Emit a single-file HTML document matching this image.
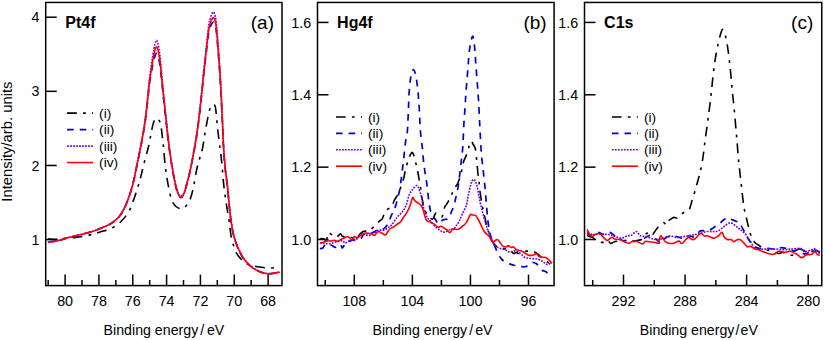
<!DOCTYPE html>
<html><head><meta charset="utf-8"><style>
html,body{margin:0;padding:0;background:#fff;width:825px;height:340px;overflow:hidden}
svg{display:block}

</style></head><body><div id="w">
<svg width="825" height="340" viewBox="0 0 825 340">
<defs>
<clipPath id="ca"><rect x="45.70" y="2.45" width="236.30" height="283.15"/></clipPath>
<clipPath id="cb"><rect x="317.50" y="2.45" width="236.60" height="283.15"/></clipPath>
<clipPath id="cc"><rect x="584.50" y="2.45" width="237.25" height="283.15"/></clipPath>
</defs>
<rect width="825" height="340" fill="#fff"/>
<g stroke-linejoin="round"><path d="M47.90,238.92 C49.38,238.97 53.95,239.32 56.80,239.20 C59.65,239.08 61.87,238.50 65.00,238.20 C68.13,237.90 71.68,237.88 75.60,237.40 C79.52,236.92 84.43,236.20 88.50,235.30 C92.57,234.40 96.17,233.18 100.00,232.00 C103.83,230.82 108.00,229.95 111.50,228.20 C115.00,226.45 118.15,224.20 121.00,221.50 C123.85,218.80 126.53,215.50 128.60,212.00 C130.67,208.50 131.97,204.32 133.40,200.50 C134.83,196.68 136.08,192.60 137.20,189.10 C138.32,185.60 139.23,182.68 140.10,179.50 C140.97,176.32 141.52,173.58 142.40,170.00 C143.28,166.42 144.37,161.97 145.40,158.00 C146.43,154.03 147.38,151.60 148.60,146.20 C149.82,140.80 151.63,130.05 152.70,125.60 C153.77,121.15 154.32,120.72 155.00,119.50 C155.68,118.28 156.20,118.30 156.80,118.30 C157.40,118.30 157.92,118.28 158.60,119.50 C159.28,120.72 160.10,121.15 160.90,125.60 C161.70,130.05 162.65,139.20 163.40,146.20 C164.15,153.20 164.62,161.22 165.40,167.60 C166.18,173.98 167.08,179.18 168.10,184.50 C169.12,189.82 170.18,195.83 171.50,199.50 C172.82,203.17 174.32,204.95 176.00,206.50 C177.68,208.05 179.93,208.88 181.60,208.80 C183.27,208.72 184.58,207.55 186.00,206.00 C187.42,204.45 188.85,202.67 190.10,199.50 C191.35,196.33 192.42,191.92 193.50,187.00 C194.58,182.08 195.55,174.83 196.60,170.00 C197.65,165.17 198.80,161.67 199.80,158.00 C200.80,154.33 201.68,152.47 202.60,148.00 C203.52,143.53 204.17,137.43 205.30,131.20 C206.43,124.97 208.28,114.92 209.40,110.60 C210.52,106.28 211.25,106.33 212.00,105.30 C212.75,104.27 213.40,104.28 213.90,104.40 C214.40,104.52 214.67,104.97 215.00,106.00 C215.33,107.03 215.42,106.40 215.90,110.60 C216.38,114.80 217.17,124.63 217.90,131.20 C218.63,137.77 219.67,144.87 220.30,150.00 C220.93,155.13 221.12,156.12 221.70,162.00 C222.28,167.88 223.00,178.13 223.80,185.30 C224.60,192.47 225.62,199.12 226.50,205.00 C227.38,210.88 228.27,215.07 229.10,220.60 C229.93,226.13 230.27,232.80 231.50,238.20 C232.73,243.60 234.83,249.45 236.50,253.00 C238.17,256.55 239.80,257.77 241.50,259.50 C243.20,261.23 244.95,262.40 246.70,263.40 C248.45,264.40 249.85,264.90 252.00,265.50 C254.15,266.10 256.77,266.57 259.60,267.00 C262.43,267.43 265.87,268.10 269.00,268.10 C272.13,268.10 276.60,267.20 278.40,267.00 C280.20,266.80 279.57,266.90 279.80,266.88" fill="none" stroke="#000" stroke-width="1.6" stroke-dasharray="9.7 6.2 2.8 6.2" clip-path="url(#ca)"/><path d="M47.90,241.82 C49.38,241.68 53.37,241.72 56.80,241.02 C60.23,240.32 64.58,238.67 68.50,237.62 C72.42,236.58 76.37,235.73 80.30,234.73 C84.23,233.73 88.82,232.65 92.10,231.64 C95.38,230.63 97.10,229.85 100.00,228.65 C102.90,227.46 106.63,226.11 109.50,224.47 C112.37,222.83 114.97,221.02 117.20,218.80 C119.43,216.58 121.15,214.15 122.90,211.13 C124.65,208.11 126.27,204.31 127.70,200.67 C129.13,197.04 130.45,192.81 131.50,189.32 C132.55,185.84 133.15,183.47 134.00,179.77 C134.85,176.07 135.47,172.65 136.60,167.14 C137.73,161.63 139.48,153.50 140.80,146.72 C142.12,139.93 143.43,133.34 144.50,126.43 C145.57,119.52 146.35,112.47 147.20,105.26 C148.05,98.05 148.67,89.96 149.60,83.17 C150.53,76.38 151.90,69.06 152.80,64.52 C153.70,59.97 154.38,57.75 155.00,55.89 C155.62,54.03 156.00,53.34 156.50,53.34 C157.00,53.34 157.43,53.99 158.00,55.89 C158.57,57.80 159.23,60.12 159.90,64.79 C160.57,69.45 161.32,77.53 162.00,83.86 C162.68,90.19 163.35,96.87 164.00,102.78 C164.65,108.68 165.32,113.94 165.90,119.27 C166.48,124.61 166.85,129.22 167.50,134.80 C168.15,140.37 169.02,147.18 169.80,152.74 C170.58,158.30 171.28,162.89 172.20,168.17 C173.12,173.46 174.33,180.16 175.30,184.45 C176.27,188.73 177.05,191.70 178.00,193.88 C178.95,196.06 180.00,197.55 181.00,197.54 C182.00,197.53 183.05,195.94 184.00,193.82 C184.95,191.70 185.57,189.14 186.70,184.83 C187.83,180.52 189.10,176.38 190.80,167.97 C192.50,159.55 195.20,145.53 196.90,134.34 C198.60,123.15 199.83,111.05 201.00,100.83 C202.17,90.61 203.03,81.00 203.90,73.02 C204.77,65.05 205.42,59.59 206.20,52.97 C206.98,46.35 207.80,37.92 208.60,33.30 C209.40,28.67 210.20,27.08 211.00,25.22 C211.80,23.36 212.68,22.08 213.40,22.13 C214.12,22.19 214.77,23.61 215.30,25.57 C215.83,27.52 216.10,29.21 216.60,33.89 C217.10,38.57 217.77,47.02 218.30,53.65 C218.83,60.28 219.35,67.03 219.80,73.68 C220.25,80.32 220.57,85.40 221.00,93.53 C221.43,101.65 221.95,112.84 222.40,122.41 C222.85,131.99 223.20,142.94 223.70,151.00 C224.20,159.06 224.78,164.85 225.40,170.79 C226.02,176.72 226.77,180.83 227.40,186.61 C228.03,192.40 228.60,199.77 229.20,205.50 C229.80,211.23 230.13,215.51 231.00,221.02 C231.87,226.52 232.57,232.61 234.40,238.51 C236.23,244.40 239.37,251.81 242.00,256.38 C244.63,260.94 247.27,263.36 250.20,265.91 C253.13,268.46 256.65,270.35 259.60,271.67 C262.55,273.00 264.77,273.73 267.90,273.86 C271.03,273.98 276.42,272.69 278.40,272.44 C280.38,272.19 279.57,272.38 279.80,272.36" fill="none" stroke="#0000cc" stroke-width="1.7" stroke-dasharray="6.6 6" clip-path="url(#ca)"/><path d="M47.90,241.76 C49.38,241.62 53.37,241.65 56.80,240.95 C60.23,240.25 64.58,238.59 68.50,237.54 C72.42,236.48 76.37,235.63 80.30,234.62 C84.23,233.61 88.82,232.52 92.10,231.49 C95.38,230.47 97.10,229.68 100.00,228.46 C102.90,227.25 106.63,225.88 109.50,224.21 C112.37,222.54 114.97,220.70 117.20,218.44 C119.43,216.18 121.15,213.72 122.90,210.66 C124.65,207.59 126.27,203.74 127.70,200.05 C129.13,196.36 130.45,192.07 131.50,188.53 C132.55,184.99 133.15,182.58 134.00,178.82 C134.85,175.05 135.47,171.60 136.60,165.96 C137.73,160.32 139.48,152.00 140.80,144.96 C142.12,137.93 143.43,131.01 144.50,123.76 C145.57,116.50 146.35,109.11 147.20,101.44 C148.05,93.76 148.67,85.37 149.60,77.70 C150.53,70.04 151.90,61.08 152.80,55.44 C153.70,49.80 154.38,46.35 155.00,43.84 C155.62,41.33 156.00,40.40 156.50,40.39 C157.00,40.39 157.43,41.35 158.00,43.83 C158.57,46.31 159.23,49.73 159.90,55.26 C160.57,60.78 161.32,69.90 162.00,76.97 C162.68,84.05 163.35,91.31 164.00,97.71 C164.65,104.12 165.32,109.74 165.90,115.40 C166.48,121.05 166.85,125.82 167.50,131.64 C168.15,137.46 169.02,144.54 169.80,150.30 C170.58,156.07 171.28,160.80 172.20,166.23 C173.12,171.67 174.33,178.52 175.30,182.90 C176.27,187.29 177.05,190.31 178.00,192.55 C178.95,194.79 180.00,196.32 181.00,196.35 C182.00,196.37 183.05,194.80 184.00,192.69 C184.95,190.58 185.57,188.01 186.70,183.68 C187.83,179.35 189.10,175.23 190.80,166.70 C192.50,158.18 195.20,143.96 196.90,132.54 C198.60,121.13 199.83,108.73 201.00,98.20 C202.17,87.67 203.03,77.72 203.90,69.35 C204.77,60.98 205.42,55.16 206.20,48.00 C206.98,40.85 207.80,31.72 208.60,26.41 C209.40,21.11 210.20,18.55 211.00,16.16 C211.80,13.78 212.68,12.05 213.40,12.10 C214.12,12.14 214.77,14.14 215.30,16.45 C215.83,18.75 216.10,20.79 216.60,25.93 C217.10,31.07 217.77,40.17 218.30,47.27 C218.83,54.36 219.35,61.52 219.80,68.50 C220.25,75.48 220.57,80.77 221.00,89.15 C221.43,97.53 221.95,109.00 222.40,118.79 C222.85,128.59 223.20,139.69 223.70,147.94 C224.20,156.19 224.78,162.19 225.40,168.30 C226.02,174.42 226.77,178.70 227.40,184.63 C228.03,190.55 228.60,198.02 229.20,203.85 C229.80,209.69 230.13,214.03 231.00,219.63 C231.87,225.23 232.57,231.45 234.40,237.47 C236.23,243.49 239.37,251.09 242.00,255.77 C244.63,260.44 247.27,262.91 250.20,265.52 C253.13,268.13 256.65,270.05 259.60,271.41 C262.55,272.77 264.77,273.51 267.90,273.66 C271.03,273.81 276.42,272.54 278.40,272.30 C280.38,272.06 279.57,272.24 279.80,272.22" fill="none" stroke="#7000ee" stroke-width="1.6" stroke-dasharray="1.8 1.2" clip-path="url(#ca)"/><path d="M47.90,241.80 C49.38,241.67 53.37,241.70 56.80,241.00 C60.23,240.30 64.58,238.65 68.50,237.60 C72.42,236.55 76.37,235.70 80.30,234.70 C84.23,233.70 88.82,232.62 92.10,231.60 C95.38,230.58 97.10,229.80 100.00,228.60 C102.90,227.40 106.63,226.05 109.50,224.40 C112.37,222.75 114.97,220.93 117.20,218.70 C119.43,216.47 121.15,214.03 122.90,211.00 C124.65,207.97 126.27,204.15 127.70,200.50 C129.13,196.85 130.45,192.60 131.50,189.10 C132.55,185.60 133.15,183.22 134.00,179.50 C134.85,175.78 135.47,172.35 136.60,166.80 C137.73,161.25 139.48,153.07 140.80,146.20 C142.12,139.33 143.43,132.63 144.50,125.60 C145.57,118.57 146.35,111.40 147.20,104.00 C148.05,96.60 148.67,88.43 149.60,81.20 C150.53,73.97 151.90,65.80 152.80,60.60 C153.70,55.40 154.38,52.30 155.00,50.00 C155.62,47.70 156.00,46.80 156.50,46.80 C157.00,46.80 157.43,47.70 158.00,50.00 C158.57,52.30 159.23,55.40 159.90,60.60 C160.57,65.80 161.32,74.47 162.00,81.20 C162.68,87.93 163.35,94.87 164.00,101.00 C164.65,107.13 165.32,112.53 165.90,118.00 C166.48,123.47 166.85,128.13 167.50,133.80 C168.15,139.47 169.02,146.37 169.80,152.00 C170.58,157.63 171.28,162.27 172.20,167.60 C173.12,172.93 174.33,179.68 175.30,184.00 C176.27,188.32 177.05,191.30 178.00,193.50 C178.95,195.70 180.00,197.20 181.00,197.20 C182.00,197.20 183.05,195.62 184.00,193.50 C184.95,191.38 185.57,188.82 186.70,184.50 C187.83,180.18 189.10,176.05 190.80,167.60 C192.50,159.15 195.20,145.07 196.90,133.80 C198.60,122.53 199.83,110.33 201.00,100.00 C202.17,89.67 203.03,79.93 203.90,71.80 C204.77,63.67 205.42,58.07 206.20,51.20 C206.98,44.33 207.80,35.58 208.60,30.60 C209.40,25.62 210.20,23.47 211.00,21.30 C211.80,19.13 212.68,17.55 213.40,17.60 C214.12,17.65 214.77,19.43 215.30,21.60 C215.83,23.77 216.10,25.67 216.60,30.60 C217.10,35.53 217.77,44.33 218.30,51.20 C218.83,58.07 219.35,65.00 219.80,71.80 C220.25,78.60 220.57,83.77 221.00,92.00 C221.43,100.23 221.95,111.53 222.40,121.20 C222.85,130.87 223.20,141.87 223.70,150.00 C224.20,158.13 224.78,164.00 225.40,170.00 C226.02,176.00 226.77,180.17 227.40,186.00 C228.03,191.83 228.60,199.23 229.20,205.00 C229.80,210.77 230.13,215.07 231.00,220.60 C231.87,226.13 232.57,232.27 234.40,238.20 C236.23,244.13 239.37,251.60 242.00,256.20 C244.63,260.80 247.27,263.23 250.20,265.80 C253.13,268.37 256.65,270.27 259.60,271.60 C262.55,272.93 264.77,273.67 267.90,273.80 C271.03,273.93 276.42,272.65 278.40,272.40 C280.38,272.15 279.57,272.34 279.80,272.32" fill="none" stroke="#ff0000" stroke-width="1.6" clip-path="url(#ca)"/><path d="M319.90,239.12 C320.20,239.01 321.02,238.50 321.70,238.50 C322.38,238.50 323.22,238.90 324.00,239.10 C324.78,239.30 325.60,240.78 326.40,239.70 C327.20,238.62 328.12,233.58 328.80,232.60 C329.48,231.62 329.72,233.23 330.50,233.80 C331.28,234.37 332.52,235.40 333.50,236.00 C334.48,236.60 335.62,237.42 336.40,237.40 C337.18,237.38 337.52,236.50 338.20,235.90 C338.88,235.30 339.92,233.85 340.50,233.80 C341.08,233.75 341.03,235.07 341.70,235.60 C342.37,236.13 343.52,236.60 344.50,237.00 C345.48,237.40 346.43,237.92 347.60,238.00 C348.77,238.08 350.07,237.42 351.50,237.50 C352.93,237.58 354.87,239.00 356.20,238.50 C357.53,238.00 358.33,235.67 359.50,234.50 C360.67,233.33 361.95,232.08 363.20,231.50 C364.45,230.92 365.82,231.20 367.00,231.00 C368.18,230.80 369.37,230.82 370.30,230.30 C371.23,229.78 371.72,228.78 372.60,227.90 C373.48,227.02 374.70,225.90 375.60,225.00 C376.50,224.10 377.22,223.28 378.00,222.50 C378.78,221.72 379.62,220.87 380.30,220.30 C380.98,219.73 381.48,220.07 382.10,219.10 C382.72,218.13 383.38,215.82 384.00,214.50 C384.62,213.18 385.13,212.12 385.80,211.20 C386.47,210.28 387.20,209.60 388.00,209.00 C388.80,208.40 389.87,208.18 390.60,207.60 C391.33,207.02 391.83,206.60 392.40,205.50 C392.97,204.40 393.40,202.33 394.00,201.00 C394.60,199.67 395.35,198.58 396.00,197.50 C396.65,196.42 397.30,195.67 397.90,194.50 C398.50,193.33 399.05,191.93 399.60,190.50 C400.15,189.07 400.50,188.00 401.20,185.90 C401.90,183.80 403.07,180.75 403.80,177.90 C404.53,175.05 404.90,171.58 405.60,168.80 C406.30,166.02 407.23,163.47 408.00,161.20 C408.77,158.93 409.52,156.67 410.20,155.20 C410.88,153.73 411.43,152.23 412.10,152.40 C412.77,152.57 413.52,154.15 414.20,156.20 C414.88,158.25 415.57,161.90 416.20,164.70 C416.83,167.50 417.47,170.28 418.00,173.00 C418.53,175.72 418.93,178.32 419.40,181.00 C419.87,183.68 420.40,186.43 420.80,189.10 C421.20,191.77 421.47,194.85 421.80,197.00 C422.13,199.15 422.40,200.00 422.80,202.00 C423.20,204.00 423.53,207.07 424.20,209.00 C424.87,210.93 425.92,212.27 426.80,213.60 C427.68,214.93 428.57,216.07 429.50,217.00 C430.43,217.93 431.57,219.45 432.40,219.20 C433.23,218.95 433.90,216.53 434.50,215.50 C435.10,214.47 435.25,213.15 436.00,213.00 C436.75,212.85 437.97,214.00 439.00,214.60 C440.03,215.20 441.32,217.72 442.20,216.60 C443.08,215.48 443.58,209.93 444.30,207.90 C445.02,205.87 445.78,205.57 446.50,204.40 C447.22,203.23 447.77,202.47 448.60,200.90 C449.43,199.33 450.58,197.15 451.50,195.00 C452.42,192.85 453.23,189.62 454.10,188.00 C454.97,186.38 455.97,186.38 456.70,185.30 C457.43,184.22 457.80,183.30 458.50,181.50 C459.20,179.70 460.25,176.92 460.90,174.50 C461.55,172.08 461.92,169.25 462.40,167.00 C462.88,164.75 463.07,163.15 463.80,161.00 C464.53,158.85 465.93,156.52 466.80,154.10 C467.67,151.68 468.30,148.65 469.00,146.50 C469.70,144.35 470.33,141.62 471.00,141.20 C471.67,140.78 472.25,142.63 473.00,144.00 C473.75,145.37 474.87,146.53 475.50,149.40 C476.13,152.27 476.40,157.27 476.80,161.20 C477.20,165.13 477.53,169.70 477.90,173.00 C478.27,176.30 478.67,178.07 479.00,181.00 C479.33,183.93 479.43,186.93 479.90,190.60 C480.37,194.27 481.22,199.60 481.80,203.00 C482.38,206.40 482.88,208.60 483.40,211.00 C483.92,213.40 484.38,215.07 484.90,217.40 C485.42,219.73 485.98,222.85 486.50,225.00 C487.02,227.15 487.15,227.75 488.00,230.30 C488.85,232.85 490.33,237.75 491.60,240.30 C492.87,242.85 494.27,244.40 495.60,245.60 C496.93,246.80 498.05,246.95 499.60,247.50 C501.15,248.05 503.13,248.45 504.90,248.90 C506.67,249.35 508.77,249.43 510.20,250.20 C511.63,250.97 512.50,253.17 513.50,253.50 C514.50,253.83 515.42,252.20 516.20,252.20 C516.98,252.20 517.40,253.45 518.20,253.50 C519.00,253.55 519.93,252.88 521.00,252.50 C522.07,252.12 523.35,251.42 524.60,251.20 C525.85,250.98 527.17,251.20 528.50,251.20 C529.83,251.20 531.37,250.97 532.60,251.20 C533.83,251.43 534.75,251.88 535.90,252.60 C537.05,253.32 538.18,254.40 539.50,255.50 C540.82,256.60 542.55,258.15 543.80,259.20 C545.05,260.25 546.00,261.03 547.00,261.80 C548.00,262.57 549.00,263.35 549.80,263.80 C550.60,264.25 551.47,264.38 551.80,264.50" fill="none" stroke="#000" stroke-width="1.6" stroke-dasharray="9.7 6.2 2.8 6.2" clip-path="url(#cb)"/><path d="M319.90,248.70 C320.40,248.59 322.02,248.72 322.90,248.00 C323.78,247.28 324.35,244.98 325.20,244.40 C326.05,243.82 327.02,244.40 328.00,244.50 C328.98,244.60 329.80,244.52 331.10,245.00 C332.40,245.48 334.23,247.50 335.80,247.40 C337.37,247.30 339.42,244.30 340.50,244.40 C341.58,244.50 341.52,248.10 342.30,248.00 C343.08,247.90 344.12,244.88 345.20,243.80 C346.28,242.72 347.62,242.08 348.80,241.50 C349.98,240.92 351.13,240.70 352.30,240.30 C353.47,239.90 354.95,239.30 355.80,239.10 C356.65,238.90 356.55,239.20 357.40,239.10 C358.25,239.00 359.83,239.28 360.90,238.50 C361.97,237.72 362.63,234.98 363.80,234.40 C364.97,233.82 366.43,235.30 367.90,235.00 C369.37,234.70 370.83,233.48 372.60,232.60 C374.37,231.72 376.73,230.28 378.50,229.70 C380.27,229.12 381.63,230.08 383.20,229.10 C384.77,228.12 386.68,225.73 387.90,223.80 C389.12,221.87 389.62,219.55 390.50,217.50 C391.38,215.45 392.30,213.58 393.20,211.50 C394.10,209.42 395.07,207.58 395.90,205.00 C396.73,202.42 397.53,198.67 398.20,196.00 C398.87,193.33 399.40,191.83 399.90,189.00 C400.40,186.17 400.75,182.50 401.20,179.00 C401.65,175.50 402.17,171.50 402.60,168.00 C403.03,164.50 403.43,161.33 403.80,158.00 C404.17,154.67 404.43,151.17 404.80,148.00 C405.17,144.83 405.57,141.90 406.00,139.00 C406.43,136.10 407.00,135.43 407.40,130.60 C407.80,125.77 408.13,115.93 408.40,110.00 C408.67,104.07 408.77,99.25 409.00,95.00 C409.23,90.75 409.50,87.50 409.80,84.50 C410.10,81.50 410.43,79.08 410.80,77.00 C411.17,74.92 411.58,73.25 412.00,72.00 C412.42,70.75 412.85,69.58 413.30,69.50 C413.75,69.42 414.25,70.33 414.70,71.50 C415.15,72.67 415.60,74.42 416.00,76.50 C416.40,78.58 416.73,81.08 417.10,84.00 C417.47,86.92 417.85,90.00 418.20,94.00 C418.55,98.00 418.83,101.90 419.20,108.00 C419.57,114.10 420.00,124.93 420.40,130.60 C420.80,136.27 421.23,138.77 421.60,142.00 C421.97,145.23 422.30,147.00 422.60,150.00 C422.90,153.00 423.10,157.00 423.40,160.00 C423.70,163.00 424.03,165.33 424.40,168.00 C424.77,170.67 425.17,173.17 425.60,176.00 C426.03,178.83 426.57,181.67 427.00,185.00 C427.43,188.33 427.78,192.50 428.20,196.00 C428.62,199.50 429.03,203.25 429.50,206.00 C429.97,208.75 430.42,210.83 431.00,212.50 C431.58,214.17 432.32,214.90 433.00,216.00 C433.68,217.10 434.17,217.78 435.10,219.10 C436.03,220.42 437.62,223.50 438.60,223.90 C439.58,224.30 440.22,222.20 441.00,221.50 C441.78,220.80 442.03,220.20 443.30,219.70 C444.57,219.20 447.23,219.87 448.60,218.50 C449.97,217.13 450.62,213.55 451.50,211.50 C452.38,209.45 453.22,208.37 453.90,206.20 C454.58,204.03 455.05,200.87 455.60,198.50 C456.15,196.13 456.70,194.58 457.20,192.00 C457.70,189.42 458.10,186.57 458.60,183.00 C459.10,179.43 459.70,174.77 460.20,170.60 C460.70,166.43 461.17,161.93 461.60,158.00 C462.03,154.07 462.42,152.75 462.80,147.00 C463.18,141.25 463.53,130.00 463.90,123.50 C464.27,117.00 464.65,113.25 465.00,108.00 C465.35,102.75 465.62,97.33 466.00,92.00 C466.38,86.67 466.90,81.00 467.30,76.00 C467.70,71.00 468.05,66.17 468.40,62.00 C468.75,57.83 469.03,54.17 469.40,51.00 C469.77,47.83 470.23,45.08 470.60,43.00 C470.97,40.92 471.27,39.67 471.60,38.50 C471.93,37.33 472.27,36.00 472.60,36.00 C472.93,36.00 473.30,37.00 473.60,38.50 C473.90,40.00 474.15,42.58 474.40,45.00 C474.65,47.42 474.85,49.67 475.10,53.00 C475.35,56.33 475.55,60.17 475.90,65.00 C476.25,69.83 476.77,76.17 477.20,82.00 C477.63,87.83 478.08,93.08 478.50,100.00 C478.92,106.92 479.30,115.67 479.70,123.50 C480.10,131.33 480.52,140.92 480.90,147.00 C481.28,153.08 481.62,156.07 482.00,160.00 C482.38,163.93 482.72,166.18 483.20,170.60 C483.68,175.02 484.38,181.10 484.90,186.50 C485.42,191.90 485.83,197.58 486.30,203.00 C486.77,208.42 487.20,214.50 487.70,219.00 C488.20,223.50 488.75,227.02 489.30,230.00 C489.85,232.98 490.28,234.63 491.00,236.90 C491.72,239.17 492.83,241.72 493.60,243.60 C494.37,245.48 494.82,246.43 495.60,248.20 C496.38,249.97 497.42,252.53 498.30,254.20 C499.18,255.87 499.92,256.98 500.90,258.20 C501.88,259.42 502.65,260.52 504.20,261.50 C505.75,262.48 508.43,263.43 510.20,264.10 C511.97,264.77 513.07,265.10 514.80,265.50 C516.53,265.90 518.73,266.33 520.60,266.50 C522.47,266.67 524.23,267.17 526.00,266.50 C527.77,265.83 529.45,262.95 531.20,262.50 C532.95,262.05 534.83,262.58 536.50,263.80 C538.17,265.02 539.65,268.47 541.20,269.80 C542.75,271.13 544.15,270.70 545.80,271.80 C547.45,272.90 550.10,275.56 551.10,276.40 C552.10,277.24 551.68,276.77 551.80,276.84" fill="none" stroke="#0000cc" stroke-width="1.7" stroke-dasharray="6.6 6" clip-path="url(#cb)"/><path d="M319.90,242.79 C320.58,242.86 322.52,243.03 324.00,243.20 C325.48,243.37 327.22,243.90 328.80,243.80 C330.38,243.70 331.93,243.05 333.50,242.60 C335.07,242.15 336.63,241.38 338.20,241.10 C339.77,240.82 341.73,240.55 342.90,240.90 C344.07,241.25 344.02,243.30 345.20,243.20 C346.38,243.10 348.23,240.78 350.00,240.30 C351.77,239.82 354.38,240.98 355.80,240.30 C357.22,239.62 357.07,237.18 358.50,236.20 C359.93,235.22 362.63,234.50 364.40,234.40 C366.17,234.30 367.53,235.80 369.10,235.60 C370.67,235.40 372.23,234.08 373.80,233.20 C375.37,232.32 376.73,230.85 378.50,230.30 C380.27,229.75 382.63,230.48 384.40,229.90 C386.17,229.32 387.83,227.70 389.10,226.80 C390.37,225.90 390.68,226.08 392.00,224.50 C393.32,222.92 395.28,219.38 397.00,217.30 C398.72,215.22 400.82,213.92 402.30,212.00 C403.78,210.08 404.72,208.73 405.90,205.80 C407.08,202.87 408.23,197.18 409.40,194.40 C410.57,191.62 411.73,190.57 412.90,189.10 C414.07,187.63 415.48,185.87 416.40,185.60 C417.32,185.33 417.67,186.03 418.40,187.50 C419.13,188.97 420.17,192.15 420.80,194.40 C421.43,196.65 421.77,198.83 422.20,201.00 C422.63,203.17 422.82,205.30 423.40,207.40 C423.98,209.50 425.05,211.88 425.70,213.60 C426.35,215.32 426.72,216.67 427.30,217.70 C427.88,218.73 428.52,219.03 429.20,219.80 C429.88,220.57 430.52,221.28 431.40,222.30 C432.28,223.32 433.47,224.87 434.50,225.90 C435.53,226.93 436.60,227.73 437.60,228.50 C438.60,229.27 439.55,229.90 440.50,230.50 C441.45,231.10 442.25,231.93 443.30,232.10 C444.35,232.27 445.62,232.00 446.80,231.50 C447.98,231.00 449.22,229.60 450.40,229.10 C451.58,228.60 452.92,229.05 453.90,228.50 C454.88,227.95 455.43,226.97 456.30,225.80 C457.17,224.63 458.12,223.42 459.10,221.50 C460.08,219.58 460.98,217.03 462.20,214.30 C463.42,211.57 465.37,208.37 466.40,205.10 C467.43,201.83 467.65,198.15 468.40,194.70 C469.15,191.25 470.03,186.97 470.90,184.40 C471.77,181.83 472.65,179.30 473.60,179.30 C474.55,179.30 475.75,181.83 476.60,184.40 C477.45,186.97 478.00,191.25 478.70,194.70 C479.40,198.15 479.93,201.32 480.80,205.10 C481.67,208.88 482.87,213.63 483.90,217.40 C484.93,221.17 485.93,224.55 487.00,227.70 C488.07,230.85 489.30,233.98 490.30,236.30 C491.30,238.62 492.12,239.95 493.00,241.60 C493.88,243.25 494.50,245.10 495.60,246.20 C496.70,247.30 498.05,247.65 499.60,248.20 C501.15,248.75 503.25,248.83 504.90,249.50 C506.55,250.17 507.95,251.97 509.50,252.20 C511.05,252.43 512.75,250.97 514.20,250.90 C515.65,250.83 516.98,251.20 518.20,251.80 C519.42,252.40 520.43,253.60 521.50,254.50 C522.57,255.40 522.98,256.53 524.60,257.20 C526.22,257.87 528.98,258.17 531.20,258.50 C533.42,258.83 535.90,258.65 537.90,259.20 C539.90,259.75 541.67,260.92 543.20,261.80 C544.73,262.68 545.78,264.27 547.10,264.50 C548.42,264.73 550.32,263.37 551.10,263.20 C551.88,263.03 551.68,263.41 551.80,263.46" fill="none" stroke="#7000ee" stroke-width="1.6" stroke-dasharray="1.8 1.2" clip-path="url(#cb)"/><path d="M319.90,243.51 C320.20,243.37 320.62,243.10 321.70,242.70 C322.78,242.30 324.83,241.40 326.40,241.10 C327.97,240.80 329.73,241.03 331.10,240.90 C332.47,240.77 333.52,240.20 334.60,240.30 C335.68,240.40 336.62,241.60 337.60,241.50 C338.58,241.40 339.23,240.38 340.50,239.70 C341.77,239.02 343.92,237.88 345.20,237.40 C346.48,236.92 347.12,236.42 348.20,236.80 C349.28,237.18 350.63,239.75 351.70,239.70 C352.77,239.65 353.65,236.80 354.60,236.50 C355.55,236.20 356.35,238.15 357.40,237.90 C358.45,237.65 359.73,235.78 360.90,235.00 C362.07,234.22 363.23,233.50 364.40,233.20 C365.57,232.90 366.72,233.10 367.90,233.20 C369.08,233.30 370.42,233.43 371.50,233.80 C372.58,234.17 373.52,235.60 374.40,235.40 C375.28,235.20 376.12,233.25 376.80,232.60 C377.48,231.95 377.62,231.40 378.50,231.50 C379.38,231.60 380.92,232.62 382.10,233.20 C383.28,233.78 384.63,235.28 385.60,235.00 C386.57,234.72 387.12,232.58 387.90,231.50 C388.68,230.42 389.37,229.25 390.30,228.50 C391.23,227.75 392.38,227.70 393.50,227.00 C394.62,226.30 395.82,225.18 397.00,224.30 C398.18,223.42 399.42,223.02 400.60,221.70 C401.78,220.38 402.93,218.17 404.10,216.40 C405.27,214.63 406.57,213.00 407.60,211.10 C408.63,209.20 409.47,207.25 410.30,205.00 C411.13,202.75 411.87,198.33 412.60,197.60 C413.33,196.87 413.77,199.67 414.70,200.60 C415.63,201.53 417.08,202.33 418.20,203.20 C419.32,204.07 420.53,204.50 421.40,205.80 C422.27,207.10 422.68,208.85 423.40,211.00 C424.12,213.15 425.02,216.98 425.70,218.70 C426.38,220.42 426.87,220.83 427.50,221.30 C428.13,221.77 428.82,221.23 429.50,221.50 C430.18,221.77 430.92,222.55 431.60,222.90 C432.28,223.25 432.83,223.12 433.60,223.60 C434.37,224.08 435.37,225.18 436.20,225.80 C437.03,226.42 437.77,227.23 438.60,227.30 C439.43,227.37 440.33,226.10 441.20,226.20 C442.07,226.30 442.85,227.28 443.80,227.90 C444.75,228.52 445.90,229.12 446.90,229.90 C447.90,230.68 448.93,232.63 449.80,232.60 C450.67,232.57 451.32,230.28 452.10,229.70 C452.88,229.12 453.62,229.13 454.50,229.10 C455.38,229.07 456.57,229.58 457.40,229.50 C458.23,229.42 458.53,229.23 459.50,228.60 C460.47,227.97 462.07,226.70 463.20,225.70 C464.33,224.70 465.43,223.80 466.30,222.60 C467.17,221.40 467.70,219.88 468.40,218.50 C469.10,217.12 469.82,214.88 470.50,214.30 C471.18,213.72 471.65,214.82 472.50,215.00 C473.35,215.18 474.73,214.82 475.60,215.40 C476.47,215.98 476.83,216.97 477.70,218.50 C478.57,220.03 479.82,222.60 480.80,224.60 C481.78,226.60 482.65,228.93 483.60,230.50 C484.55,232.07 485.68,233.17 486.50,234.00 C487.32,234.83 487.87,234.78 488.50,235.50 C489.13,236.22 489.55,237.18 490.30,238.30 C491.05,239.42 492.12,241.87 493.00,242.20 C493.88,242.53 494.83,240.73 495.60,240.30 C496.37,239.87 496.82,239.17 497.60,239.60 C498.38,240.03 499.42,241.80 500.30,242.90 C501.18,244.00 501.92,245.53 502.90,246.20 C503.88,246.87 505.32,247.00 506.20,246.90 C507.08,246.80 507.42,245.50 508.20,245.60 C508.98,245.70 510.02,247.28 510.90,247.50 C511.78,247.72 512.62,246.57 513.50,246.90 C514.38,247.23 515.20,248.92 516.20,249.50 C517.20,250.08 518.53,250.12 519.50,250.40 C520.47,250.68 521.03,250.73 522.00,251.20 C522.97,251.67 524.20,252.53 525.30,253.20 C526.40,253.87 527.38,254.87 528.60,255.20 C529.82,255.53 531.28,255.42 532.60,255.20 C533.92,254.98 535.40,253.68 536.50,253.90 C537.60,254.12 538.20,255.95 539.20,256.50 C540.20,257.05 541.40,257.02 542.50,257.20 C543.60,257.38 544.70,257.10 545.80,257.60 C546.90,258.10 548.10,259.25 549.10,260.20 C550.10,261.15 551.35,262.78 551.80,263.30" fill="none" stroke="#ff0000" stroke-width="1.6" clip-path="url(#cb)"/><path d="M587.10,235.53 C587.13,235.54 586.85,235.39 587.30,235.60 C587.75,235.81 588.98,236.52 589.80,236.80 C590.62,237.08 591.25,236.77 592.20,237.30 C593.15,237.83 594.40,239.12 595.50,240.00 C596.60,240.88 597.72,242.20 598.80,242.60 C599.88,243.00 600.97,242.47 602.00,242.40 C603.03,242.33 604.08,242.52 605.00,242.20 C605.92,241.88 606.53,240.30 607.50,240.50 C608.47,240.70 609.55,243.23 610.80,243.40 C612.05,243.57 613.22,241.90 615.00,241.50 C616.78,241.10 619.20,241.25 621.50,241.00 C623.80,240.75 626.85,240.00 628.80,240.00 C630.75,240.00 631.75,240.92 633.20,241.00 C634.65,241.08 636.03,240.80 637.50,240.50 C638.97,240.20 640.83,239.95 642.00,239.20 C643.17,238.45 643.70,237.00 644.50,236.00 C645.30,235.00 646.05,233.45 646.80,233.20 C647.55,232.95 648.22,234.03 649.00,234.50 C649.78,234.97 650.58,236.42 651.50,236.00 C652.42,235.58 653.52,233.35 654.50,232.00 C655.48,230.65 656.40,229.07 657.40,227.90 C658.40,226.73 659.43,225.88 660.50,225.00 C661.57,224.12 662.85,222.60 663.80,222.60 C664.75,222.60 665.42,225.28 666.20,225.00 C666.98,224.72 667.70,221.90 668.50,220.90 C669.30,219.90 670.12,219.58 671.00,219.00 C671.88,218.42 672.83,217.58 673.80,217.40 C674.77,217.22 675.93,218.13 676.80,217.90 C677.67,217.67 678.22,216.68 679.00,216.00 C679.78,215.32 680.60,214.45 681.50,213.80 C682.40,213.15 683.18,212.68 684.40,212.10 C685.62,211.52 687.78,211.32 688.80,210.30 C689.82,209.28 690.02,207.43 690.50,206.00 C690.98,204.57 691.15,203.53 691.70,201.70 C692.25,199.87 693.13,197.20 693.80,195.00 C694.47,192.80 695.03,190.83 695.70,188.50 C696.37,186.17 697.13,183.43 697.80,181.00 C698.47,178.57 699.08,176.42 699.70,173.90 C700.32,171.38 700.90,169.05 701.50,165.90 C702.10,162.75 702.72,159.15 703.30,155.00 C703.88,150.85 704.42,145.50 705.00,141.00 C705.58,136.50 706.23,132.17 706.80,128.00 C707.37,123.83 707.85,120.17 708.40,116.00 C708.95,111.83 709.57,107.33 710.10,103.00 C710.63,98.67 711.13,94.33 711.60,90.00 C712.07,85.67 712.42,81.33 712.90,77.00 C713.38,72.67 713.93,68.00 714.50,64.00 C715.07,60.00 715.68,56.42 716.30,53.00 C716.92,49.58 717.55,46.42 718.20,43.50 C718.85,40.58 719.50,37.83 720.20,35.50 C720.90,33.17 721.67,29.92 722.40,29.50 C723.13,29.08 723.90,31.08 724.60,33.00 C725.30,34.92 726.02,38.08 726.60,41.00 C727.18,43.92 727.65,47.33 728.10,50.50 C728.55,53.67 728.90,56.58 729.30,60.00 C729.70,63.42 730.12,67.17 730.50,71.00 C730.88,74.83 731.25,79.17 731.60,83.00 C731.95,86.83 732.23,90.33 732.60,94.00 C732.97,97.67 733.40,101.00 733.80,105.00 C734.20,109.00 734.60,113.50 735.00,118.00 C735.40,122.50 735.83,127.83 736.20,132.00 C736.57,136.17 736.87,138.83 737.20,143.00 C737.53,147.17 737.83,152.83 738.20,157.00 C738.57,161.17 739.02,164.50 739.40,168.00 C739.78,171.50 740.12,174.67 740.50,178.00 C740.88,181.33 741.30,184.50 741.70,188.00 C742.10,191.50 742.47,195.50 742.90,199.00 C743.33,202.50 743.75,205.98 744.30,209.00 C744.85,212.02 745.57,214.38 746.20,217.10 C746.83,219.82 747.43,222.57 748.10,225.30 C748.77,228.03 749.42,231.05 750.20,233.50 C750.98,235.95 751.83,238.33 752.80,240.00 C753.77,241.67 754.90,242.57 756.00,243.50 C757.10,244.43 758.10,244.67 759.40,245.60 C760.70,246.53 762.08,248.27 763.80,249.10 C765.52,249.93 768.00,250.12 769.70,250.60 C771.40,251.08 772.53,251.52 774.00,252.00 C775.47,252.48 777.17,253.42 778.50,253.50 C779.83,253.58 780.90,252.57 782.00,252.50 C783.10,252.43 783.90,252.82 785.10,253.10 C786.30,253.38 788.00,253.85 789.20,254.20 C790.40,254.55 791.25,255.57 792.30,255.20 C793.35,254.83 794.38,253.03 795.50,252.00 C796.62,250.97 797.57,249.23 799.00,249.00 C800.43,248.77 802.82,249.92 804.10,250.60 C805.38,251.28 805.42,252.93 806.70,253.10 C807.98,253.27 810.00,252.28 811.80,251.60 C813.60,250.92 816.30,249.00 817.50,249.00 C818.70,249.00 818.63,251.16 819.00,251.60 C819.37,252.04 819.58,251.65 819.70,251.66" fill="none" stroke="#000" stroke-width="1.6" stroke-dasharray="9.7 6.2 2.8 6.2" clip-path="url(#cc)"/><path d="M587.10,232.64 C587.13,232.65 586.85,232.27 587.30,232.70 C587.75,233.13 588.83,235.07 589.80,235.20 C590.77,235.33 591.73,233.98 593.10,233.50 C594.47,233.02 596.63,232.30 598.00,232.30 C599.37,232.30 600.20,233.12 601.30,233.50 C602.40,233.88 603.37,234.80 604.60,234.60 C605.83,234.40 607.47,232.48 608.70,232.30 C609.93,232.12 611.07,232.98 612.00,233.50 C612.93,234.02 613.32,234.65 614.30,235.40 C615.28,236.15 616.78,237.32 617.90,238.00 C619.02,238.68 620.05,239.00 621.00,239.50 C621.95,240.00 622.53,240.87 623.60,241.00 C624.67,241.13 626.17,240.30 627.40,240.30 C628.63,240.30 629.78,240.80 631.00,241.00 C632.22,241.20 633.25,241.72 634.70,241.50 C636.15,241.28 638.28,240.10 639.70,239.70 C641.12,239.30 641.63,239.78 643.20,239.10 C644.77,238.42 647.33,235.88 649.10,235.60 C650.87,235.32 652.40,236.58 653.80,237.40 C655.20,238.22 656.48,239.48 657.50,240.50 C658.52,241.52 659.07,243.42 659.90,243.50 C660.73,243.58 661.65,241.83 662.50,241.00 C663.35,240.17 664.18,239.20 665.00,238.50 C665.82,237.80 666.40,237.13 667.40,236.80 C668.40,236.47 669.73,236.60 671.00,236.50 C672.27,236.40 673.65,236.05 675.00,236.20 C676.35,236.35 677.77,237.10 679.10,237.40 C680.43,237.70 681.38,238.23 683.00,238.00 C684.62,237.77 686.85,236.20 688.80,236.00 C690.75,235.80 692.73,237.65 694.70,236.80 C696.67,235.95 698.40,231.88 700.60,230.90 C702.80,229.92 705.45,231.63 707.90,230.90 C710.35,230.17 713.33,227.73 715.30,226.50 C717.27,225.27 718.33,224.58 719.70,223.50 C721.07,222.42 722.27,220.93 723.50,220.00 C724.73,219.07 725.90,218.05 727.10,217.90 C728.30,217.75 729.23,218.55 730.70,219.10 C732.17,219.65 734.55,220.67 735.90,221.20 C737.25,221.73 738.07,221.82 738.80,222.30 C739.53,222.78 739.32,222.45 740.30,224.10 C741.28,225.75 743.23,229.50 744.70,232.20 C746.17,234.90 747.50,237.97 749.10,240.30 C750.70,242.63 752.58,244.85 754.30,246.20 C756.02,247.55 757.08,248.03 759.40,248.40 C761.72,248.77 765.50,248.28 768.20,248.40 C770.90,248.52 773.38,249.23 775.60,249.10 C777.82,248.97 779.75,247.70 781.50,247.60 C783.25,247.50 784.65,248.18 786.10,248.50 C787.55,248.82 788.83,249.07 790.20,249.50 C791.57,249.93 792.92,251.10 794.30,251.10 C795.68,251.10 796.95,249.07 798.50,249.50 C800.05,249.93 801.90,253.18 803.60,253.70 C805.30,254.22 807.17,253.20 808.70,252.60 C810.23,252.00 811.42,250.43 812.80,250.10 C814.18,249.77 815.97,250.27 817.00,250.60 C818.03,250.93 818.55,251.84 819.00,252.10 C819.45,252.36 819.58,252.15 819.70,252.16" fill="none" stroke="#0000cc" stroke-width="1.7" stroke-dasharray="6.6 6" clip-path="url(#cc)"/><path d="M587.10,233.87 C587.20,233.89 587.05,233.81 587.70,234.00 C588.35,234.19 589.78,234.92 591.00,235.00 C592.22,235.08 593.50,234.67 595.00,234.50 C596.50,234.33 598.20,234.02 600.00,234.00 C601.80,233.98 604.07,234.27 605.80,234.40 C607.53,234.53 608.87,234.45 610.40,234.80 C611.93,235.15 613.15,235.95 615.00,236.50 C616.85,237.05 619.43,238.20 621.50,238.10 C623.57,238.00 625.68,236.40 627.40,235.90 C629.12,235.40 630.33,235.83 631.80,235.10 C633.27,234.37 634.73,231.37 636.20,231.50 C637.67,231.63 638.88,235.05 640.60,235.90 C642.32,236.75 644.53,236.12 646.50,236.60 C648.47,237.08 650.45,238.30 652.40,238.80 C654.35,239.30 656.25,239.72 658.20,239.60 C660.15,239.48 662.13,238.72 664.10,238.10 C666.07,237.48 668.03,236.02 670.00,235.90 C671.97,235.78 674.07,237.22 675.90,237.40 C677.73,237.58 679.15,237.23 681.00,237.00 C682.85,236.77 685.00,236.33 687.00,236.00 C689.00,235.67 690.98,235.37 693.00,235.00 C695.02,234.63 696.85,234.37 699.10,233.80 C701.35,233.23 704.28,231.97 706.50,231.60 C708.72,231.23 710.45,231.72 712.40,231.60 C714.35,231.48 716.25,231.75 718.20,230.90 C720.15,230.05 722.13,227.85 724.10,226.50 C726.07,225.15 728.28,223.05 730.00,222.80 C731.72,222.55 732.93,224.05 734.40,225.00 C735.87,225.95 737.57,227.55 738.80,228.50 C740.03,229.45 740.57,229.60 741.80,230.70 C743.03,231.80 744.73,233.25 746.20,235.10 C747.67,236.95 749.13,239.58 750.60,241.80 C752.07,244.02 753.28,247.18 755.00,248.40 C756.72,249.62 758.70,248.98 760.90,249.10 C763.10,249.22 765.75,249.10 768.20,249.10 C770.65,249.10 773.15,248.97 775.60,249.10 C778.05,249.23 780.70,249.90 782.90,249.90 C785.10,249.90 787.23,249.25 788.80,249.10 C790.37,248.95 790.35,249.10 792.30,249.00 C794.25,248.90 798.45,248.07 800.50,248.50 C802.55,248.93 802.88,251.33 804.60,251.60 C806.32,251.87 809.08,250.53 810.80,250.10 C812.52,249.67 813.53,248.50 814.90,249.00 C816.27,249.50 818.20,252.42 819.00,253.10 C819.80,253.78 819.58,253.09 819.70,253.09" fill="none" stroke="#7000ee" stroke-width="1.6" stroke-dasharray="1.8 1.2" clip-path="url(#cc)"/><path d="M587.10,229.74 C587.13,229.75 586.85,229.02 587.30,229.80 C587.75,230.58 588.98,233.23 589.80,234.40 C590.62,235.57 591.38,236.73 592.20,236.80 C593.02,236.87 593.73,235.35 594.70,234.80 C595.67,234.25 597.03,233.57 598.00,233.50 C598.97,233.43 599.67,233.85 600.50,234.40 C601.33,234.95 602.18,235.98 603.00,236.80 C603.82,237.62 604.65,238.68 605.40,239.30 C606.15,239.92 606.80,240.57 607.50,240.50 C608.20,240.43 608.85,239.43 609.60,238.90 C610.35,238.37 611.13,237.28 612.00,237.30 C612.87,237.32 613.63,238.63 614.80,239.00 C615.97,239.37 617.80,239.25 619.00,239.50 C620.20,239.75 621.10,240.12 622.00,240.50 C622.90,240.88 623.27,241.35 624.40,241.80 C625.53,242.25 627.33,243.33 628.80,243.20 C630.27,243.07 631.73,241.23 633.20,241.00 C634.67,240.77 636.00,241.30 637.60,241.80 C639.20,242.30 641.57,244.05 642.80,244.00 C644.03,243.95 643.90,241.87 645.00,241.50 C646.10,241.13 647.68,241.63 649.40,241.80 C651.12,241.97 653.78,242.32 655.30,242.50 C656.82,242.68 657.65,244.00 658.50,242.90 C659.35,241.80 659.72,236.70 660.40,235.90 C661.08,235.10 661.73,237.12 662.60,238.10 C663.47,239.08 664.37,240.90 665.60,241.80 C666.83,242.70 668.53,243.32 670.00,243.50 C671.47,243.68 672.93,243.32 674.40,242.90 C675.87,242.48 677.87,241.17 678.80,241.00 C679.73,240.83 679.43,241.50 680.00,241.90 C680.57,242.30 680.85,244.13 682.20,243.40 C683.55,242.67 686.50,238.17 688.10,237.50 C689.70,236.83 690.70,239.15 691.80,239.40 C692.90,239.65 693.23,239.98 694.70,239.00 C696.17,238.02 699.00,234.00 700.60,233.50 C702.20,233.00 703.08,235.58 704.30,236.00 C705.52,236.42 706.32,235.63 707.90,236.00 C709.48,236.37 712.08,238.20 713.80,238.20 C715.52,238.20 716.85,236.97 718.20,236.00 C719.55,235.03 720.92,232.27 721.90,232.40 C722.88,232.53 723.23,235.63 724.10,236.80 C724.97,237.97 725.87,238.92 727.10,239.40 C728.33,239.88 730.40,239.30 731.50,239.70 C732.60,240.10 732.85,241.77 733.70,241.80 C734.55,241.83 735.50,240.27 736.60,239.90 C737.70,239.53 738.95,238.92 740.30,239.60 C741.65,240.28 743.48,242.78 744.70,244.00 C745.92,245.22 746.62,246.53 747.60,246.90 C748.58,247.27 749.37,245.83 750.60,246.20 C751.83,246.57 753.53,248.48 755.00,249.10 C756.47,249.72 757.93,249.40 759.40,249.90 C760.87,250.40 762.33,251.50 763.80,252.10 C765.27,252.70 766.48,253.13 768.20,253.50 C769.92,253.87 772.38,254.67 774.10,254.30 C775.82,253.93 777.03,251.67 778.50,251.30 C779.97,250.93 781.63,251.97 782.90,252.10 C784.17,252.23 784.88,252.27 786.10,252.10 C787.32,251.93 788.83,250.93 790.20,251.10 C791.57,251.27 793.10,252.50 794.30,253.10 C795.50,253.70 796.37,254.02 797.40,254.70 C798.43,255.38 799.63,256.72 800.50,257.20 C801.37,257.68 801.73,257.93 802.60,257.60 C803.47,257.27 804.68,255.68 805.70,255.20 C806.72,254.72 807.68,254.87 808.70,254.70 C809.72,254.53 810.77,254.72 811.80,254.20 C812.83,253.68 813.95,251.52 814.90,251.60 C815.85,251.68 816.73,254.10 817.50,254.70 C818.27,255.30 819.13,255.11 819.50,255.20 C819.87,255.29 819.67,255.23 819.70,255.24" fill="none" stroke="#ff0000" stroke-width="1.6" clip-path="url(#cc)"/></g>
<g stroke="#000" stroke-width="1.5"><line x1="65.10" y1="285.60" x2="65.10" y2="274.60"/><line x1="98.93" y1="285.60" x2="98.93" y2="274.60"/><line x1="132.76" y1="285.60" x2="132.76" y2="274.60"/><line x1="166.59" y1="285.60" x2="166.59" y2="274.60"/><line x1="200.42" y1="285.60" x2="200.42" y2="274.60"/><line x1="234.25" y1="285.60" x2="234.25" y2="274.60"/><line x1="268.08" y1="285.60" x2="268.08" y2="274.60"/><line x1="48.18" y1="285.60" x2="48.18" y2="280.00"/><line x1="82.01" y1="285.60" x2="82.01" y2="280.00"/><line x1="115.84" y1="285.60" x2="115.84" y2="280.00"/><line x1="149.67" y1="285.60" x2="149.67" y2="280.00"/><line x1="183.50" y1="285.60" x2="183.50" y2="280.00"/><line x1="217.33" y1="285.60" x2="217.33" y2="280.00"/><line x1="251.16" y1="285.60" x2="251.16" y2="280.00"/><line x1="354.30" y1="285.60" x2="354.30" y2="274.60"/><line x1="412.37" y1="285.60" x2="412.37" y2="274.60"/><line x1="470.44" y1="285.60" x2="470.44" y2="274.60"/><line x1="528.50" y1="285.60" x2="528.50" y2="274.60"/><line x1="325.27" y1="285.60" x2="325.27" y2="280.00"/><line x1="383.33" y1="285.60" x2="383.33" y2="280.00"/><line x1="441.40" y1="285.60" x2="441.40" y2="280.00"/><line x1="499.47" y1="285.60" x2="499.47" y2="280.00"/><line x1="623.50" y1="285.60" x2="623.50" y2="274.60"/><line x1="685.06" y1="285.60" x2="685.06" y2="274.60"/><line x1="746.62" y1="285.60" x2="746.62" y2="274.60"/><line x1="808.18" y1="285.60" x2="808.18" y2="274.60"/><line x1="592.72" y1="285.60" x2="592.72" y2="280.00"/><line x1="654.28" y1="285.60" x2="654.28" y2="280.00"/><line x1="715.84" y1="285.60" x2="715.84" y2="280.00"/><line x1="777.40" y1="285.60" x2="777.40" y2="280.00"/><line x1="45.70" y1="239.60" x2="56.70" y2="239.60"/><line x1="45.70" y1="165.47" x2="56.70" y2="165.47"/><line x1="45.70" y1="91.34" x2="56.70" y2="91.34"/><line x1="45.70" y1="17.21" x2="56.70" y2="17.21"/><line x1="317.50" y1="239.50" x2="328.50" y2="239.50"/><line x1="317.50" y1="167.14" x2="328.50" y2="167.14"/><line x1="317.50" y1="94.78" x2="328.50" y2="94.78"/><line x1="317.50" y1="22.42" x2="328.50" y2="22.42"/><line x1="584.50" y1="239.50" x2="595.50" y2="239.50"/><line x1="584.50" y1="167.14" x2="595.50" y2="167.14"/><line x1="584.50" y1="94.78" x2="595.50" y2="94.78"/><line x1="584.50" y1="22.42" x2="595.50" y2="22.42"/></g>
<g fill="none"><path d="M67.10,113.15 H93.10" fill="none" stroke="#000" stroke-width="1.6" stroke-dasharray="9.7 6.2 2.8 6.2"/><path d="M67.10,129.62 H93.10" fill="none" stroke="#0000cc" stroke-width="1.7" stroke-dasharray="6.6 6"/><path d="M67.10,146.09 H93.10" fill="none" stroke="#7000ee" stroke-width="1.6" stroke-dasharray="1.8 1.2"/><path d="M67.10,162.56 H93.10" fill="none" stroke="#ff0000" stroke-width="1.6"/><path d="M336.00,117.00 H362.00" fill="none" stroke="#000" stroke-width="1.6" stroke-dasharray="9.7 6.2 2.8 6.2"/><path d="M336.00,133.40 H362.00" fill="none" stroke="#0000cc" stroke-width="1.7" stroke-dasharray="6.6 6"/><path d="M336.00,149.80 H362.00" fill="none" stroke="#7000ee" stroke-width="1.6" stroke-dasharray="1.8 1.2"/><path d="M336.00,166.20 H362.00" fill="none" stroke="#ff0000" stroke-width="1.6"/><path d="M611.90,117.00 H637.90" fill="none" stroke="#000" stroke-width="1.6" stroke-dasharray="9.7 6.2 2.8 6.2"/><path d="M611.90,133.40 H637.90" fill="none" stroke="#0000cc" stroke-width="1.7" stroke-dasharray="6.6 6"/><path d="M611.90,149.80 H637.90" fill="none" stroke="#7000ee" stroke-width="1.6" stroke-dasharray="1.8 1.2"/><path d="M611.90,166.20 H637.90" fill="none" stroke="#ff0000" stroke-width="1.6"/></g>
<rect x="45.70" y="2.45" width="236.30" height="283.15" fill="none" stroke="#000" stroke-width="1.5"/><rect x="317.50" y="2.45" width="236.60" height="283.15" fill="none" stroke="#000" stroke-width="1.5"/><rect x="584.50" y="2.45" width="237.25" height="283.15" fill="none" stroke="#000" stroke-width="1.5"/>
<g font-family='"Liberation Sans", sans-serif' fill="#000" stroke="#000" stroke-width="0"><text transform="translate(65.10 305.80) scale(1 1.060)" font-size="14.30" text-anchor="middle" font-weight="normal" >80</text><text transform="translate(98.93 305.80) scale(1 1.060)" font-size="14.30" text-anchor="middle" font-weight="normal" >78</text><text transform="translate(132.76 305.80) scale(1 1.060)" font-size="14.30" text-anchor="middle" font-weight="normal" >76</text><text transform="translate(166.59 305.80) scale(1 1.060)" font-size="14.30" text-anchor="middle" font-weight="normal" >74</text><text transform="translate(200.42 305.80) scale(1 1.060)" font-size="14.30" text-anchor="middle" font-weight="normal" >72</text><text transform="translate(234.25 305.80) scale(1 1.060)" font-size="14.30" text-anchor="middle" font-weight="normal" >70</text><text transform="translate(268.08 305.80) scale(1 1.060)" font-size="14.30" text-anchor="middle" font-weight="normal" >68</text><text transform="translate(354.30 305.80) scale(1 1.060)" font-size="14.30" text-anchor="middle" font-weight="normal" >108</text><text transform="translate(412.37 305.80) scale(1 1.060)" font-size="14.30" text-anchor="middle" font-weight="normal" >104</text><text transform="translate(470.44 305.80) scale(1 1.060)" font-size="14.30" text-anchor="middle" font-weight="normal" >100</text><text transform="translate(528.50 305.80) scale(1 1.060)" font-size="14.30" text-anchor="middle" font-weight="normal" >96</text><text transform="translate(623.50 305.80) scale(1 1.060)" font-size="14.30" text-anchor="middle" font-weight="normal" >292</text><text transform="translate(685.06 305.80) scale(1 1.060)" font-size="14.30" text-anchor="middle" font-weight="normal" >288</text><text transform="translate(746.62 305.80) scale(1 1.060)" font-size="14.30" text-anchor="middle" font-weight="normal" >284</text><text transform="translate(808.18 305.80) scale(1 1.060)" font-size="14.30" text-anchor="middle" font-weight="normal" >280</text><text transform="translate(39.40 244.70) scale(1 1.060)" font-size="14.30" text-anchor="end" font-weight="normal" >1</text><text transform="translate(39.40 170.57) scale(1 1.060)" font-size="14.30" text-anchor="end" font-weight="normal" >2</text><text transform="translate(39.40 96.44) scale(1 1.060)" font-size="14.30" text-anchor="end" font-weight="normal" >3</text><text transform="translate(39.40 22.31) scale(1 1.060)" font-size="14.30" text-anchor="end" font-weight="normal" >4</text><text transform="translate(311.20 244.60) scale(1 1.060)" font-size="14.30" text-anchor="end" font-weight="normal" >1.0</text><text transform="translate(311.20 172.24) scale(1 1.060)" font-size="14.30" text-anchor="end" font-weight="normal" >1.2</text><text transform="translate(311.20 99.88) scale(1 1.060)" font-size="14.30" text-anchor="end" font-weight="normal" >1.4</text><text transform="translate(311.20 27.52) scale(1 1.060)" font-size="14.30" text-anchor="end" font-weight="normal" >1.6</text><text transform="translate(578.20 244.60) scale(1 1.060)" font-size="14.30" text-anchor="end" font-weight="normal" >1.0</text><text transform="translate(578.20 172.24) scale(1 1.060)" font-size="14.30" text-anchor="end" font-weight="normal" >1.2</text><text transform="translate(578.20 99.88) scale(1 1.060)" font-size="14.30" text-anchor="end" font-weight="normal" >1.4</text><text transform="translate(578.20 27.52) scale(1 1.060)" font-size="14.30" text-anchor="end" font-weight="normal" >1.6</text><text x="65.30" y="27.70" font-size="16.00" text-anchor="start" font-weight="bold" stroke-width="0">Pt4f</text><text x="337.10" y="27.70" font-size="16.00" text-anchor="start" font-weight="bold" stroke-width="0">Hg4f</text><text x="604.10" y="27.70" font-size="16.00" text-anchor="start" font-weight="bold" stroke-width="0">C1s</text><text x="274.00" y="29.00" font-size="19.00" text-anchor="end" font-weight="normal" stroke-width="0">(a)</text><text x="546.70" y="29.00" font-size="19.00" text-anchor="end" font-weight="normal" stroke-width="0">(b)</text><text x="813.25" y="29.00" font-size="19.00" text-anchor="end" font-weight="normal" stroke-width="0">(c)</text><text x="103.60" y="335.40" font-size="14.20" text-anchor="start" font-weight="normal" >Binding energy<tspan dx="2.1">/</tspan><tspan dx="2.6">eV</tspan></text><text x="372.50" y="335.40" font-size="14.20" text-anchor="start" font-weight="normal" >Binding energy<tspan dx="2.1">/</tspan><tspan dx="2.0">eV</tspan></text><text x="639.80" y="335.40" font-size="14.20" text-anchor="start" font-weight="normal" >Binding energy<tspan dx="1.0">/</tspan><tspan dx="1.2">eV</tspan></text><text transform="translate(12.0,141.6) rotate(-90)" font-size="14.8" text-anchor="middle">Intensity/arb. units</text><text x="99.10" y="117.65" font-size="13.70" text-anchor="start" font-weight="normal" >(i)</text><text x="99.10" y="134.12" font-size="13.70" text-anchor="start" font-weight="normal" >(ii)</text><text x="99.10" y="150.59" font-size="13.70" text-anchor="start" font-weight="normal" >(iii)</text><text x="99.10" y="167.06" font-size="13.70" text-anchor="start" font-weight="normal" >(iv)</text><text x="368.00" y="121.50" font-size="13.70" text-anchor="start" font-weight="normal" >(i)</text><text x="368.00" y="137.90" font-size="13.70" text-anchor="start" font-weight="normal" >(ii)</text><text x="368.00" y="154.30" font-size="13.70" text-anchor="start" font-weight="normal" >(iii)</text><text x="368.00" y="170.70" font-size="13.70" text-anchor="start" font-weight="normal" >(iv)</text><text x="643.90" y="121.50" font-size="13.70" text-anchor="start" font-weight="normal" >(i)</text><text x="643.90" y="137.90" font-size="13.70" text-anchor="start" font-weight="normal" >(ii)</text><text x="643.90" y="154.30" font-size="13.70" text-anchor="start" font-weight="normal" >(iii)</text><text x="643.90" y="170.70" font-size="13.70" text-anchor="start" font-weight="normal" >(iv)</text></g>
</svg>
</div></body></html>
